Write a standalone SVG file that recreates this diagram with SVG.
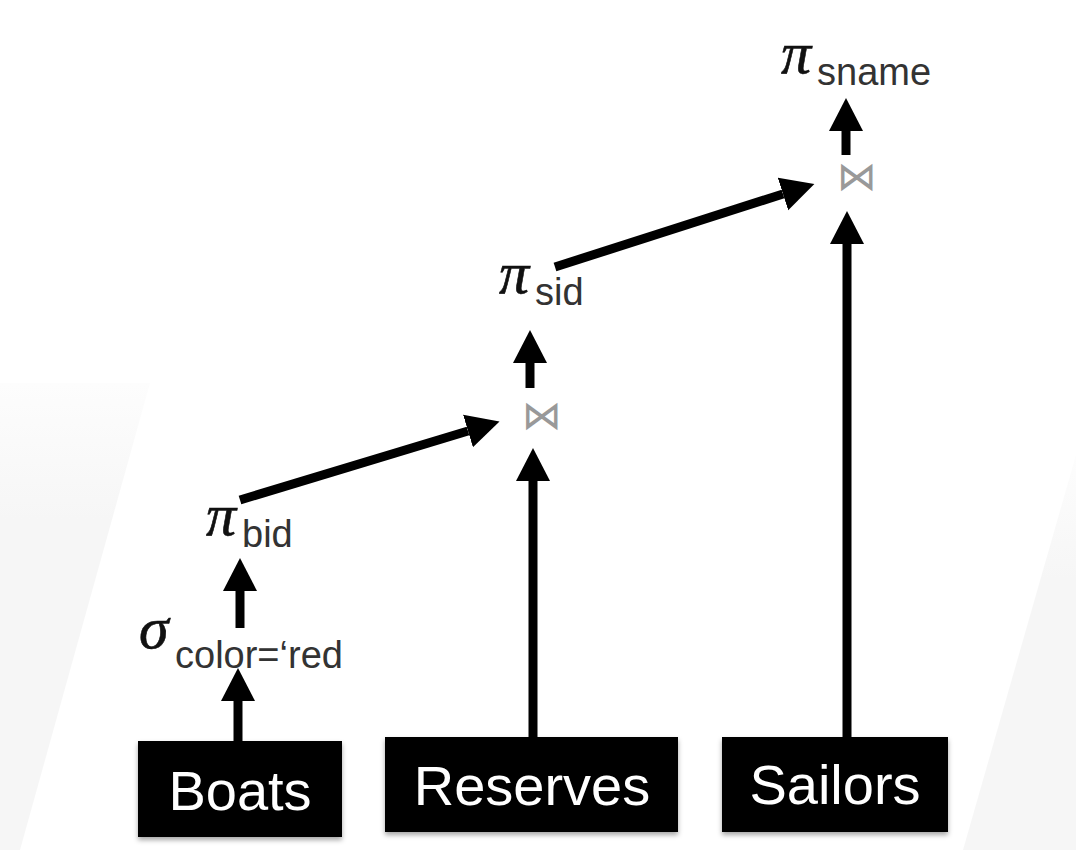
<svg xmlns="http://www.w3.org/2000/svg" width="1076" height="850" viewBox="0 0 1076 850">
  <defs>
    <marker id="head" markerUnits="userSpaceOnUse" markerWidth="34" markerHeight="36" refX="0" refY="16" orient="auto" viewBox="0 0 32 32">
      <path d="M0,0 L31,16 L0,32 z" fill="#000"/>
    </marker>
    <filter id="shadow" x="-10%" y="-10%" width="120%" height="130%">
      <feDropShadow dx="0" dy="3" stdDeviation="2.5" flood-color="#000" flood-opacity="0.35"/>
    </filter>
    <linearGradient id="wedgeL" gradientUnits="userSpaceOnUse" x1="0" y1="383" x2="0" y2="520">
      <stop offset="0" stop-color="#fdfdfd"/>
      <stop offset="1" stop-color="#f6f6f6"/>
    </linearGradient>
    <linearGradient id="wedgeR" gradientUnits="userSpaceOnUse" x1="0" y1="455" x2="0" y2="580">
      <stop offset="0" stop-color="#fdfdfd"/>
      <stop offset="1" stop-color="#f6f6f6"/>
    </linearGradient>
  </defs>
  <style>
    .edge { stroke: #000; stroke-width: 9; fill: none; marker-end: url(#head); }
    .box { fill: #000; filter: url(#shadow); }
    .boxlabel { font-family: "Liberation Sans", Arial, sans-serif; font-size: 56px; fill: #fff; text-anchor: middle; }
    .op { font-family: "Liberation Serif", "Times New Roman", serif; font-style: italic; font-size: 60px; fill: #111; stroke: #111; stroke-width: 0.6; }
    .sub { font-family: "Liberation Sans", Arial, sans-serif; font-style: normal; font-size: 38px; fill: #333; stroke: none; }
    .join { font-family: "DejaVu Sans", sans-serif; font-size: 40px; fill: #999; text-anchor: middle; }
  </style>
  <rect width="1076" height="850" fill="#fff"/>
  <polygon points="0,383 150,383 20,850 0,850" fill="url(#wedgeL)"/>
  <polygon points="1076,455 1076,850 963,850" fill="url(#wedgeR)"/>

  <g id="connectors">
    <line class="edge" x1="238" y1="741" x2="238" y2="701"/>
    <line class="edge" x1="240" y1="628" x2="240" y2="591"/>
    <line class="edge" x1="533" y1="737" x2="533" y2="481"/>
    <line class="edge" x1="530" y1="388" x2="530" y2="363"/>
    <line class="edge" x1="847" y1="737" x2="847" y2="244"/>
    <line class="edge" x1="846" y1="155" x2="846" y2="131"/>
    <line class="edge" x1="240" y1="500" x2="468" y2="431"/>
    <line class="edge" x1="555" y1="267" x2="783" y2="194"/>
  </g>

  <g id="boats">
    <rect class="box" x="138" y="741" width="204" height="96"/>
    <text class="boxlabel" x="240" y="810">Boats</text>
  </g>
  <g id="reserves">
    <rect class="box" x="385" y="737" width="293" height="95"/>
    <text class="boxlabel" x="532" y="805">Reserves</text>
  </g>
  <g id="sailors">
    <rect class="box" x="722" y="737" width="226" height="95"/>
    <text class="boxlabel" x="835" y="804">Sailors</text>
  </g>

  <g id="select-color">
    <text class="op" x="139" y="648">σ<tspan class="sub" x="175" y="668">color=‘red</tspan></text>
  </g>
  <g id="project-bid">
    <text class="op" x="206" y="535">π<tspan class="sub" x="242" y="547">bid</tspan></text>
  </g>
  <g id="join-1">
    <text class="join" x="542" y="429">⋈</text>
  </g>
  <g id="project-sid">
    <text class="op" x="499" y="293">π<tspan class="sub" x="535" y="305">sid</tspan></text>
  </g>
  <g id="join-2">
    <text class="join" x="857" y="190">⋈</text>
  </g>
  <g id="project-sname">
    <text class="op" x="781" y="73">π<tspan class="sub" x="817" y="85">sname</tspan></text>
  </g>
</svg>
